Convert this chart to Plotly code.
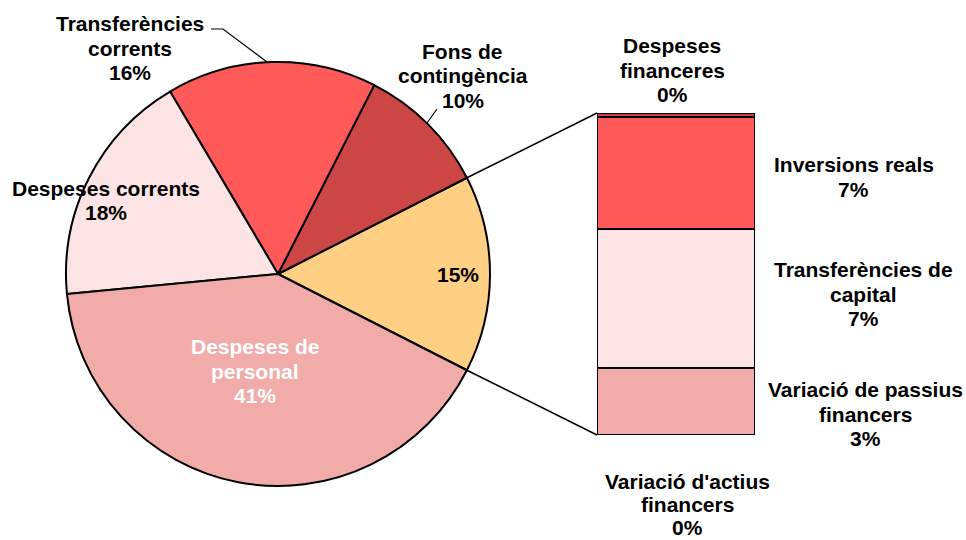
import math
import plotly.graph_objects as go

# ---- data ----
pie_labels = ["Altres", "Fons de contingència", "Transferències corrents",
              "Despeses corrents", "Despeses de personal"]
pie_values = [15, 10, 16, 18, 41]
pie_text = ["15%", "10%", "16%", "18%", "41%"]
pie_colors = ["#FFD083", "#CC4646", "#FF5A5A", "#FCE4E4", "#F1ACA9"]

bar_labels = ["Variació d'actius financers", "Variació de passius financers",
              "Transferències de capital", "Inversions reals", "Despeses financeres"]
bar_values = [0.0, 3.1, 6.5, 5.2, 0.2]
bar_text = ["0%", "3%", "7%", "7%", "0%"]
bar_colors = ["#CC4646", "#F1ACA9", "#FCE4E4", "#FF5A5A", "#CC4646"]

W, H = 966, 540
def px(x): return x / W
def py(y): return 1 - y / H

FONT = "Liberation Sans, Arial, sans-serif"
FS = 21
LH = 24.5

# pie geometry (pixels)
pie_left, pie_top, pie_size = 66, 62, 424
cx, cy, r = pie_left + pie_size / 2, pie_top + pie_size / 2, pie_size / 2
other_deg = pie_values[0] / sum(pie_values) * 360
rotation = 90 - other_deg / 2

# bar geometry (pixels)
bar_x0, bar_x1, bar_y0, bar_y1 = 597, 755, 113, 435

fig = go.Figure()
fig.add_trace(go.Pie(
    labels=pie_labels, values=pie_values, sort=False, direction="counterclockwise",
    rotation=rotation, textinfo="none", hoverinfo="label+percent",
    marker=dict(colors=pie_colors, line=dict(color="black", width=2)),
    domain=dict(x=[px(pie_left), px(pie_left + pie_size)],
                y=[py(pie_top + pie_size), py(pie_top)]),
    showlegend=False,
))

for lab, val, col in zip(bar_labels, bar_values, bar_colors):
    fig.add_trace(go.Bar(
        x=[0], y=[val], name=lab, width=1, marker=dict(color=col, line=dict(color="black", width=2)),
        xaxis="x", yaxis="y", showlegend=False,
    ))

# connector lines from the "other" slice edges to the bar corners
a_up = math.radians(other_deg / 2)
p_up = (cx + r * math.cos(a_up), cy - r * math.sin(a_up))
p_dn = (cx + r * math.cos(a_up), cy + r * math.sin(a_up))
shapes = [
    dict(type="line", xref="paper", yref="paper", x0=px(p_up[0]), y0=py(p_up[1]),
         x1=px(bar_x0), y1=py(bar_y0), line=dict(color="black", width=1.5)),
    dict(type="line", xref="paper", yref="paper", x0=px(p_dn[0]), y0=py(p_dn[1]),
         x1=px(bar_x0), y1=py(bar_y1), line=dict(color="black", width=1.5)),
    # leader lines
    dict(type="path", xref="paper", yref="paper",
         path=f"M {px(211)} {py(29)} L {px(223)} {py(29)} L {px(267)} {py(62)}",
         line=dict(color="black", width=1.2)),
    dict(type="line", xref="paper", yref="paper", x0=px(437), y0=py(109),
         x1=px(427), y1=py(123), line=dict(color="black", width=1.2)),
]

annotations = []
def label(x, y_top, lines, color="black", lh=LH):
    for i, t in enumerate(lines):
        annotations.append(dict(
            x=px(x), y=py(y_top + i * lh), xref="paper", yref="paper",
            text="<b>" + t + "</b>", showarrow=False,
            font=dict(family=FONT, size=FS, color=color),
            xanchor="center", yanchor="middle"))

label(129.5, 23.5, ["Transferències", "corrents", pie_text[2]])
label(462.5, 51.5, ["Fons de", "contingència", pie_text[1]])
label(105.5, 188.5, ["Despeses corrents", pie_text[3]])
label(457.5, 274.5, [pie_text[0]])
label(255, 346.5, ["Despeses de", "personal", pie_text[4]], "white")
label(672, 45.5, ["Despeses", "financeres", bar_text[4]])
label(853.5, 164.5, ["Inversions reals", bar_text[3]])
label(863.5, 269.5, ["Transferències de", "capital", bar_text[2]])
label(865.5, 389.5, ["Variació de passius", "financers", bar_text[1]])
label(687.5, 481, ["Variació d'actius", "financers", bar_text[0]], lh=23)

fig.update_layout(
    width=W, height=H, margin=dict(l=0, r=0, t=0, b=0),
    paper_bgcolor="white", plot_bgcolor="rgba(0,0,0,0)",
    barmode="stack", bargap=0,
    xaxis=dict(domain=[px(bar_x0), px(bar_x1)], range=[-0.5, 0.5], visible=False, fixedrange=True),
    yaxis=dict(domain=[py(bar_y1), py(bar_y0)], range=[0, sum(bar_values)], visible=False, fixedrange=True),
    shapes=shapes, annotations=annotations,
    font=dict(family=FONT),
)

fig.write_html("out.html", config={"displayModeBar": False},
               post_script="document.body.style.margin='0';document.body.style.overflow='hidden';")
